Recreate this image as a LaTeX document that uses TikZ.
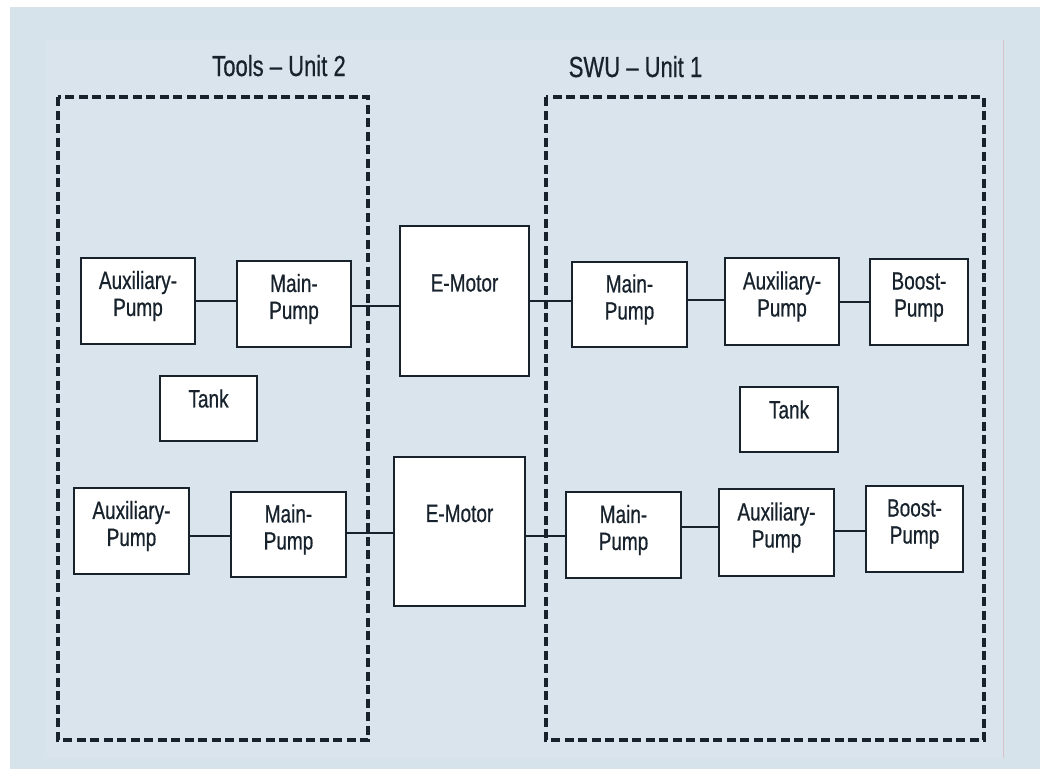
\documentclass[tikz,border=0pt]{standalone}
\usepackage{fontspec}
\setmainfont{Liberation Sans}[FakeStretch=0.76,FakeBold=0.6]
\definecolor{bgblue}{HTML}{D7E3EB}
\definecolor{panel}{HTML}{D9E4EC}
\definecolor{ink}{HTML}{17222C}
\definecolor{edge}{HTML}{D6C4C4}
\newcommand{\bodyfont}{\fontsize{25}{27}\selectfont}
\newcommand{\titlefont}{\fontsize{29}{32}\selectfont}
\tikzset{
  box/.style={draw=ink, line width=2.8pt, fill=white, inner sep=0pt},
  txt/.style={font=\bodyfont, align=center, inner sep=0pt, text=ink},
  ttl/.style={font=\titlefont, inner sep=0pt, text=ink, anchor=base},
  link/.style={draw=ink, line width=2.6pt},
  group/.style={draw=ink, line width=3.2pt, dash pattern=on 9pt off 4.5pt}
}
\begin{document}
\begin{tikzpicture}[x=1pt, y=-1pt]
\useasboundingbox (0,0) rectangle (1046,769);
\fill[white] (0,0) rectangle (1046,769);
\fill[bgblue] (10,7) rectangle (1040,769);
\fill[panel] (45,40) rectangle (1003,758);
\draw[edge, line width=0.8pt] (1003,40) -- (1003,758);

% titles
\node[ttl] (t2) at (279,76) {Tools -- Unit 2};
\node[ttl] (t1) at (635.5,77) {SWU -- Unit 1};

% group frames
\draw[group] (58,97) rectangle (368,740);
\draw[group] (546,97) rectangle (984,740);

% top row
\node[box, minimum width=114, minimum height=86, label={[txt, yshift=5pt]center:{Auxiliary-\\Pump}}] (auxL1) at (138,301) {};
\node[box, minimum width=114, minimum height=86, label={[txt, yshift=5pt]center:{Main-\\Pump}}] (mainL1) at (294,304) {};
\node[box, minimum width=129, minimum height=150, label={[txt, yshift=18pt]center:{E-Motor}}] (emTop) at (464.5,301) {};
\node[box, minimum width=115, minimum height=85, label={[txt, yshift=5pt]center:{Main-\\Pump}}] (mainR1) at (629.5,304.5) {};
\node[box, minimum width=114, minimum height=87, label={[txt, yshift=5pt]center:{Auxiliary-\\Pump}}] (auxR1) at (782,301.5) {};
\node[box, minimum width=98, minimum height=86, label={[txt, yshift=5pt]center:{Boost-\\Pump}}] (boostR1) at (919,302) {};

% tanks
\node[box, minimum width=97, minimum height=65, label={[txt, yshift=10pt]center:{Tank}}] (tankL) at (208.5,408.5) {};
\node[box, minimum width=98, minimum height=65, label={[txt, yshift=10pt]center:{Tank}}] (tankR) at (789,419.5) {};

% bottom row
\node[box, minimum width=115, minimum height=86, label={[txt, yshift=5pt]center:{Auxiliary-\\Pump}}] (auxL2) at (131.5,531) {};
\node[box, minimum width=115, minimum height=85, label={[txt, yshift=5pt]center:{Main-\\Pump}}] (mainL2) at (288.5,534.5) {};
\node[box, minimum width=131, minimum height=149, label={[txt, yshift=18pt]center:{E-Motor}}] (emBot) at (459.5,531.5) {};
\node[box, minimum width=115, minimum height=86, label={[txt, yshift=5pt]center:{Main-\\Pump}}] (mainR2) at (623.5,535) {};
\node[box, minimum width=115, minimum height=87, label={[txt, yshift=5pt]center:{Auxiliary-\\Pump}}] (auxR2) at (776.5,532.5) {};
\node[box, minimum width=97, minimum height=86, label={[txt, yshift=5pt]center:{Boost-\\Pump}}] (boostR2) at (914.5,529) {};

% connectors
\draw[link] (auxL1.east |- 0,301) -- (mainL1.west |- 0,301);
\draw[link] (mainL1.east |- 0,306) -- (emTop.west |- 0,306);
\draw[link] (emTop.east |- 0,301) -- (mainR1.west |- 0,301);
\draw[link] (mainR1.east |- 0,300) -- (auxR1.west |- 0,300);
\draw[link] (auxR1.east |- 0,302) -- (boostR1.west |- 0,302);
\draw[link] (auxL2.east |- 0,536) -- (mainL2.west |- 0,536);
\draw[link] (mainL2.east |- 0,533) -- (emBot.west |- 0,533);
\draw[link] (emBot.east |- 0,536) -- (mainR2.west |- 0,536);
\draw[link] (mainR2.east |- 0,527) -- (auxR2.west |- 0,527);
\draw[link] (auxR2.east |- 0,531) -- (boostR2.west |- 0,531);
\end{tikzpicture}
\end{document}
